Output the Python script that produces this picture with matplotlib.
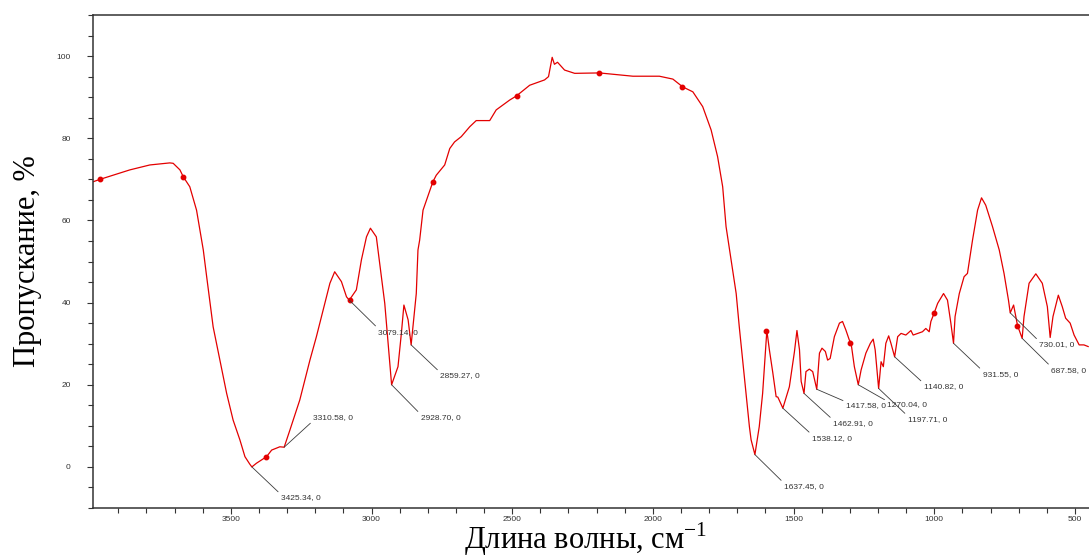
import matplotlib
matplotlib.use("Agg")
import matplotlib.pyplot as plt
from matplotlib.ticker import MultipleLocator

# ИК-спектр: волновое число (см-1) и пропускание (%)
wavenumber = [3990, 3965, 3859, 3788, 3717, 3705, 3681, 3669, 3646, 3622,
              3598, 3586, 3563, 3539, 3515, 3492, 3468, 3450, 3433, 3425.34,
              3409, 3373, 3355, 3326, 3310.58, 3290, 3255, 3219, 3196, 3172,
              3148, 3131, 3107, 3089, 3079.14, 3054, 3036, 3018, 3004, 2983,
              2971, 2953, 2941, 2928.70, 2906, 2894, 2885, 2870, 2859.27, 2841,
              2835, 2829, 2817, 2782, 2770, 2740, 2722, 2705, 2681, 2651,
              2628, 2580, 2557, 2509, 2485, 2438, 2385, 2371, 2358, 2350,
              2339, 2314, 2278, 2190, 2071, 1977, 1929, 1894, 1858, 1823,
              1793, 1770, 1752, 1740, 1722, 1704, 1693, 1675, 1657, 1651,
              1637.45, 1622, 1610, 1598, 1595, 1586, 1574, 1562, 1556, 1538.12,
              1515, 1497, 1488, 1479, 1473, 1462.91, 1456, 1444, 1432, 1417.58,
              1408, 1399, 1387, 1379, 1370, 1355, 1337, 1326, 1314, 1302,
              1296, 1284, 1270.04, 1260, 1243, 1227, 1217, 1210, 1197.71, 1189,
              1181, 1172, 1162, 1154, 1140.82, 1130, 1118, 1101, 1083, 1075,
              1059, 1042, 1030, 1018, 1012, 1000, 988, 967, 953, 941,
              931.55, 926, 911, 894, 882, 864, 846, 832, 817, 793,
              769, 752, 736, 730.01, 718, 704, 687.58, 681, 663, 639,
              616, 598, 588, 578, 559, 545, 533, 517, 503, 485,
              468, 453]
transmittance = [69.4, 70.0, 72.3, 73.5, 74.0, 73.9, 72.3, 70.6, 68.2, 62.5,
                 52.8, 46.3, 34.1, 26.0, 17.9, 11.4, 6.6, 2.5, 0.7, 0.0,
                 0.9, 2.5, 4.1, 4.9, 4.8, 9.0, 16.3, 26.0, 31.7, 38.2,
                 44.7, 47.5, 45.1, 41.4, 40.6, 43.1, 50.4, 56.0, 58.1, 56.0,
                 49.5, 39.8, 30.1, 20.0, 24.4, 32.5, 39.4, 35.8, 29.7, 42.2,
                 52.8, 55.2, 62.5, 69.4, 71.0, 73.5, 77.5, 79.1, 80.4, 82.8,
                 84.3, 84.3, 86.9, 89.3, 90.3, 92.9, 94.2, 95.0, 99.7, 98.0,
                 98.5, 96.6, 95.8, 95.9, 95.1, 95.1, 94.4, 92.5, 91.3, 87.7,
                 82.0, 75.5, 68.2, 58.5, 50.4, 42.2, 34.1, 22.0, 9.8, 6.6,
                 3.0, 9.8, 17.9, 30.1, 33.2, 28.5, 23.0, 17.1, 17.0, 14.3,
                 19.5, 28.0, 33.2, 28.5, 20.8, 17.9, 23.2, 23.8, 23.2, 18.9,
                 27.7, 28.9, 28.1, 26.0, 26.4, 31.7, 35.0, 35.4, 33.3, 30.9,
                 30.3, 24.4, 20.0, 23.6, 27.7, 30.1, 31.1, 28.5, 19.1, 25.6,
                 24.4, 30.1, 31.9, 30.1, 26.8, 31.7, 32.5, 32.1, 33.2, 32.1,
                 32.5, 32.9, 33.7, 32.9, 35.4, 37.5, 39.8, 42.2, 40.6, 35.0,
                 30.1, 36.6, 42.2, 46.3, 47.1, 55.2, 62.5, 65.5, 63.7, 58.5,
                 52.8, 47.1, 40.5, 37.5, 39.4, 34.4, 31.3, 36.6, 44.7, 47.0,
                 44.7, 39.0, 31.5, 36.6, 41.8, 39.0, 36.2, 35.0, 32.1, 29.7,
                 29.7, 29.3]

# точки-маркеры на кривой
marker_wn = [3965, 3669, 3376, 3077, 2783, 2484, 2190, 1895, 1597, 1298, 1000, 705]
marker_t = [70.1, 70.6, 2.4, 40.6, 69.3, 90.3, 95.9, 92.5, 33.2, 30.2, 37.5, 34.4]

# подписанные пики
peak_wn = [3425.34, 3310.58, 3079.14, 2928.70, 2859.27, 1637.45, 1538.12, 1462.91,
           1417.58, 1270.04, 1197.71, 1140.82, 931.55, 730.01, 687.58]
peak_t = [0.0, 4.8, 40.6, 20.0, 29.7, 3.0, 14.3, 17.9,
          18.9, 20.0, 19.1, 26.8, 30.1, 37.5, 31.3]
peak_labels = ["3425.34, 0", "3310.58, 0", "3079.14, 0", "2928.70, 0", "2859.27, 0",
               "1637.45, 0", "1538.12, 0", "1462.91, 0", "1417.58, 0", "1270.04, 0",
               "1197.71, 0", "1140.82, 0", "931.55, 0", "730.01, 0", "687.58, 0"]
# смещение подписи (пиксели, вниз положительно)
label_dy = [31, -30, 32, 33, 31, 32, 30, 30, 16, 20, 31, 30, 31, 32, 32]

plt.rcParams["mathtext.fontset"] = "custom"
plt.rcParams["mathtext.rm"] = "Liberation Serif"

fig = plt.figure(figsize=(10.89, 5.59), dpi=100)
ax = fig.add_axes([93 / 1089, 51 / 559, 996 / 1089, 493 / 559])

ax.plot(wavenumber, transmittance, color="#e30000", lw=0.9)
ax.plot(marker_wn, marker_t, "o", color="#e30000", ms=3.2, ls="none")

for wn, t, txt, dy in zip(peak_wn, peak_t, peak_labels, label_dy):
    ax.annotate(txt, xy=(wn, t), xytext=(29, -dy), textcoords="offset pixels",
                ha="left", va="center", fontsize=6, family="Liberation Sans",
                color="#333333",
                arrowprops=dict(arrowstyle="-", color="#3a3a3a", lw=0.6,
                                shrinkA=0, shrinkB=0,
                                relpos=(0, 0) if dy < 0 else (0, 1)))

ax.set_xlim(3990, 450)
ax.set_ylim(-10, 110)
ax.xaxis.set_major_locator(MultipleLocator(500))
ax.xaxis.set_minor_locator(MultipleLocator(100))
ax.yaxis.set_major_locator(MultipleLocator(20))
ax.yaxis.set_minor_locator(MultipleLocator(5))

ax.spines["right"].set_visible(False)
for s in ["left", "bottom", "top"]:
    ax.spines[s].set_color("#333333")
    ax.spines[s].set_linewidth(1.1)

ax.tick_params(which="both", direction="out", color="#333333", width=0.8,
               labelsize=6, labelcolor="#333333")
ax.tick_params(which="major", length=4)
ax.tick_params(which="minor", length=3.5)
ax.tick_params(axis="x", pad=1.5)
ax.tick_params(axis="y", pad=12)
for lab in ax.get_xticklabels() + ax.get_yticklabels():
    lab.set_family("Liberation Sans")

ax.set_ylabel("Пропускание, %", family="Liberation Serif", fontsize=22)
ax.set_xlabel("Длина волны, см$^{-1}$", family="Liberation Serif", fontsize=22)
ax.yaxis.set_label_coords(-0.051, 0.5)
ax.xaxis.label.set_verticalalignment("baseline")
ax.xaxis.set_label_coords(0.495, -0.084)

plt.savefig("out.png", dpi=100)
